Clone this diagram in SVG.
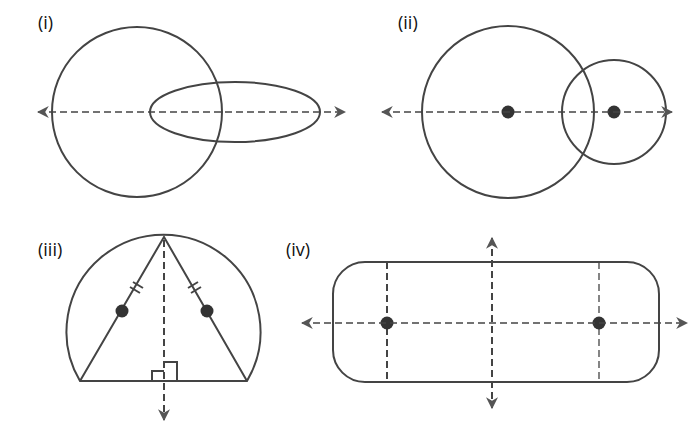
<svg xmlns="http://www.w3.org/2000/svg" width="694" height="428" viewBox="0 0 694 428">
<style>
.s{fill:none;stroke:#444;stroke-width:2}
.d{fill:none;stroke:#444;stroke-width:1.3;stroke-dasharray:7 4}
.dt{fill:none;stroke:#444;stroke-width:2;stroke-dasharray:7 4}
.p{fill:#333}
text{font-family:"Open Sans","Liberation Sans",sans-serif;font-size:18px;fill:#111}
</style>
<defs>
<marker id="a" viewBox="0 0 10 10" refX="9" refY="5" markerWidth="12" markerHeight="12" markerUnits="userSpaceOnUse" orient="auto-start-reverse"><path d="M0,0 L10,5 L0,10 L3,5Z" fill="#555"/></marker>
</defs>
<rect width="694" height="428" fill="#fff"/>
<g id="i">
<text x="38" y="29">(i)</text>
<circle class="s" cx="137" cy="112" r="85"/>
<ellipse class="s" cx="235" cy="112" rx="85" ry="30"/>
</g>
<g id="ii">
<text x="398" y="29">(ii)</text>
<circle class="s" cx="508" cy="112" r="86"/>
<circle class="s" cx="614" cy="112" r="52"/>
<circle class="p" cx="508" cy="112" r="6.5"/>
<circle class="p" cx="614" cy="112" r="6.5"/>
</g>
<g id="iii">
<text x="38" y="256">(iii)</text>
<path class="s" d="M80,381 A97,97 0 1 1 247,381 Z"/>
<path class="s" d="M80,381 L164,237 L247,381"/>
<path class="s" d="M152,381 V371 H164 M164,362 H177 V381" stroke-width="1.6"/>
<path class="s" stroke-width="1.5" d="M130,287 l10,6 M133,282 l10,6 M188,288 l10,-6 M191,293 l10,-6"/>
<circle class="p" cx="122" cy="311" r="6.5"/>
<circle class="p" cx="207" cy="311" r="6.5"/>
</g>
<g id="iv">
<text x="286" y="256">(iv)</text>
<rect class="s" x="333" y="262" width="326" height="120" rx="32"/>
<line class="dt" x1="387" y1="262" x2="387" y2="382"/>
<line class="d" x1="599" y1="262" x2="599" y2="382"/>
<circle class="p" cx="387" cy="323" r="6.5"/>
<circle class="p" cx="599" cy="323" r="6.5"/>
</g>
<g id="connectors">
<line class="d" x1="38" y1="112" x2="345" y2="112" marker-start="url(#a)" marker-end="url(#a)"/>
<line class="d" x1="382" y1="112" x2="672" y2="112" marker-start="url(#a)" marker-end="url(#a)"/>
<line class="dt" x1="164" y1="240" x2="164" y2="420" marker-end="url(#a)"/>
<line class="d" x1="302" y1="323" x2="687" y2="323" marker-start="url(#a)" marker-end="url(#a)"/>
<line class="dt" x1="492" y1="238" x2="492" y2="408" marker-start="url(#a)" marker-end="url(#a)"/>
</g>
</svg>
